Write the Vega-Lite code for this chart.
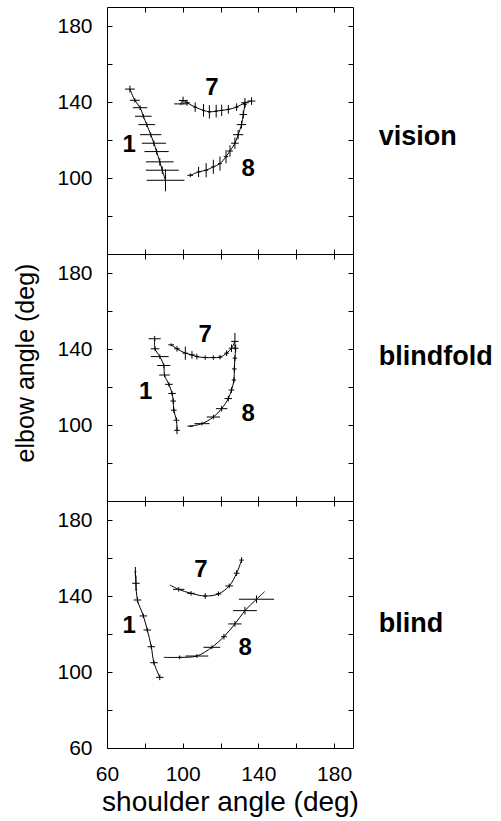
{
  "$schema": "https://vega.github.io/schema/vega-lite/v6.json",
  "padding": {"left": 13, "top": 6, "right": 5, "bottom": 5},
  "autosize": {"type": "pad"},
  "spacing": 0,
  "bounds": "flush",
  "config": {
    "font": "Liberation Sans",
    "view": {"stroke": "black", "strokeWidth": 1},
    "axis": {"domain": false, "grid": false, "tickColor": "black", "labelColor": "black", "labelFontSize": 21, "labelFont": "Liberation Sans", "titleFont": "Liberation Sans", "titleFontSize": 25, "titleFontWeight": "normal", "titleColor": "black", "labelOverlap": false, "labelFlush": false, "tickSize": -5, "labelPadding": 20}
  },
  "datasets": {
    "pts": [
      {"p": "v", "c": "1", "x": 72.1, "y": 146.8, "xe": 2.6, "ye": 1.8},
      {"p": "v", "c": "1", "x": 74.7, "y": 140.9, "xe": 2.6, "ye": 1.2},
      {"p": "v", "c": "1", "x": 77.5, "y": 137.0, "xe": 3.8, "ye": 1.2},
      {"p": "v", "c": "1", "x": 79.2, "y": 132.5, "xe": 4.4, "ye": 1.2},
      {"p": "v", "c": "1", "x": 81.0, "y": 128.1, "xe": 4.4, "ye": 1.2},
      {"p": "v", "c": "1", "x": 83.1, "y": 122.8, "xe": 5.6, "ye": 1.2},
      {"p": "v", "c": "1", "x": 84.8, "y": 118.3, "xe": 6.4, "ye": 1.5},
      {"p": "v", "c": "1", "x": 86.2, "y": 113.9, "xe": 6.4, "ye": 1.5},
      {"p": "v", "c": "1", "x": 87.9, "y": 108.5, "xe": 7.3, "ye": 2.0},
      {"p": "v", "c": "1", "x": 89.2, "y": 104.1, "xe": 8.7, "ye": 2.0},
      {"p": "v", "c": "1", "x": 90.9, "y": 98.8, "xe": 10.0, "ye": 5.8},
      {"p": "v", "c": "7", "x": 99.0, "y": 139.0, "xe": 3.5, "ye": 0.6},
      {"p": "v", "c": "7", "x": 100.2, "y": 140.8, "xe": 2.2, "ye": 2.0},
      {"p": "v", "c": "7", "x": 102.3, "y": 139.6, "xe": 1.5, "ye": 1.5},
      {"p": "v", "c": "7", "x": 106.6, "y": 137.3, "xe": 1.0, "ye": 2.5},
      {"p": "v", "c": "7", "x": 111.0, "y": 135.6, "xe": 0.8, "ye": 3.3},
      {"p": "v", "c": "7", "x": 114.1, "y": 134.8, "xe": 0.8, "ye": 3.5},
      {"p": "v", "c": "7", "x": 117.7, "y": 135.2, "xe": 0.8, "ye": 3.3},
      {"p": "v", "c": "7", "x": 120.6, "y": 135.6, "xe": 0.8, "ye": 3.0},
      {"p": "v", "c": "7", "x": 124.1, "y": 136.1, "xe": 0.8, "ye": 2.3},
      {"p": "v", "c": "7", "x": 128.5, "y": 137.3, "xe": 1.0, "ye": 2.0},
      {"p": "v", "c": "7", "x": 132.9, "y": 139.6, "xe": 2.0, "ye": 2.5},
      {"p": "v", "c": "7", "x": 136.4, "y": 140.5, "xe": 2.0, "ye": 2.0},
      {"p": "v", "c": "8", "x": 104.0, "y": 101.4, "xe": 1.5, "ye": 1.0},
      {"p": "v", "c": "8", "x": 108.4, "y": 103.2, "xe": 1.0, "ye": 2.7},
      {"p": "v", "c": "8", "x": 112.4, "y": 104.1, "xe": 1.0, "ye": 3.7},
      {"p": "v", "c": "8", "x": 116.2, "y": 105.9, "xe": 1.0, "ye": 3.7},
      {"p": "v", "c": "8", "x": 119.7, "y": 107.6, "xe": 1.0, "ye": 3.7},
      {"p": "v", "c": "8", "x": 122.9, "y": 111.2, "xe": 1.2, "ye": 3.5},
      {"p": "v", "c": "8", "x": 125.0, "y": 114.2, "xe": 1.5, "ye": 3.0},
      {"p": "v", "c": "8", "x": 127.6, "y": 118.3, "xe": 2.0, "ye": 3.0},
      {"p": "v", "c": "8", "x": 129.3, "y": 122.8, "xe": 2.7, "ye": 2.5},
      {"p": "v", "c": "8", "x": 131.1, "y": 128.1, "xe": 2.5, "ye": 2.0},
      {"p": "v", "c": "8", "x": 132.0, "y": 133.4, "xe": 2.0, "ye": 2.0},
      {"p": "v", "c": "8", "x": 132.9, "y": 138.8, "xe": 1.0, "ye": 1.5},
      {"p": "f", "c": "1", "x": 85.2, "y": 145.4, "xe": 3.2, "ye": 1.5},
      {"p": "f", "c": "1", "x": 85.4, "y": 140.1, "xe": 2.3, "ye": 1.2},
      {"p": "f", "c": "1", "x": 87.9, "y": 136.0, "xe": 4.7, "ye": 1.2},
      {"p": "f", "c": "1", "x": 90.0, "y": 131.3, "xe": 3.5, "ye": 1.2},
      {"p": "f", "c": "1", "x": 90.4, "y": 126.3, "xe": 2.8, "ye": 1.2},
      {"p": "f", "c": "1", "x": 92.7, "y": 121.4, "xe": 2.0, "ye": 1.2},
      {"p": "f", "c": "1", "x": 94.4, "y": 116.6, "xe": 2.0, "ye": 1.2},
      {"p": "f", "c": "1", "x": 95.0, "y": 112.6, "xe": 1.5, "ye": 1.5},
      {"p": "f", "c": "1", "x": 95.3, "y": 107.8, "xe": 1.5, "ye": 1.5},
      {"p": "f", "c": "1", "x": 96.7, "y": 102.5, "xe": 1.5, "ye": 1.5},
      {"p": "f", "c": "1", "x": 97.0, "y": 97.2, "xe": 1.5, "ye": 2.0},
      {"p": "f", "c": "7", "x": 93.9, "y": 142.2, "xe": 1.5, "ye": 0.8},
      {"p": "f", "c": "7", "x": 97.0, "y": 140.1, "xe": 1.5, "ye": 1.5},
      {"p": "f", "c": "7", "x": 101.4, "y": 137.8, "xe": 1.5, "ye": 3.5},
      {"p": "f", "c": "7", "x": 104.9, "y": 136.9, "xe": 1.5, "ye": 2.0},
      {"p": "f", "c": "7", "x": 107.5, "y": 136.0, "xe": 1.2, "ye": 1.5},
      {"p": "f", "c": "7", "x": 111.9, "y": 135.5, "xe": 1.2, "ye": 1.2},
      {"p": "f", "c": "7", "x": 116.2, "y": 135.5, "xe": 1.2, "ye": 1.2},
      {"p": "f", "c": "7", "x": 119.7, "y": 135.7, "xe": 1.2, "ye": 1.2},
      {"p": "f", "c": "7", "x": 123.2, "y": 137.8, "xe": 1.2, "ye": 1.5},
      {"p": "f", "c": "7", "x": 125.8, "y": 140.4, "xe": 1.5, "ye": 2.0},
      {"p": "f", "c": "7", "x": 127.6, "y": 144.0, "xe": 2.0, "ye": 4.4},
      {"p": "f", "c": "8", "x": 104.0, "y": 99.4, "xe": 1.5, "ye": 0.5},
      {"p": "f", "c": "8", "x": 110.2, "y": 100.7, "xe": 4.0, "ye": 1.0},
      {"p": "f", "c": "8", "x": 116.2, "y": 104.2, "xe": 3.5, "ye": 1.2},
      {"p": "f", "c": "8", "x": 120.6, "y": 108.6, "xe": 3.0, "ye": 1.5},
      {"p": "f", "c": "8", "x": 124.1, "y": 113.9, "xe": 2.0, "ye": 1.5},
      {"p": "f", "c": "8", "x": 125.8, "y": 118.4, "xe": 1.5, "ye": 1.5},
      {"p": "f", "c": "8", "x": 127.1, "y": 123.7, "xe": 1.2, "ye": 1.5},
      {"p": "f", "c": "8", "x": 127.3, "y": 129.5, "xe": 1.2, "ye": 1.5},
      {"p": "f", "c": "8", "x": 127.6, "y": 135.2, "xe": 1.2, "ye": 1.5},
      {"p": "f", "c": "8", "x": 128.0, "y": 140.4, "xe": 1.5, "ye": 2.0},
      {"p": "b", "c": "1", "x": 75.0, "y": 152.8, "xe": 0.5, "ye": 2.5},
      {"p": "b", "c": "1", "x": 75.3, "y": 146.7, "xe": 2.0, "ye": 4.0},
      {"p": "b", "c": "1", "x": 76.1, "y": 137.9, "xe": 2.0, "ye": 1.5},
      {"p": "b", "c": "1", "x": 79.2, "y": 129.5, "xe": 2.0, "ye": 1.2},
      {"p": "b", "c": "1", "x": 81.3, "y": 122.1, "xe": 2.0, "ye": 1.2},
      {"p": "b", "c": "1", "x": 83.4, "y": 113.3, "xe": 2.0, "ye": 1.2},
      {"p": "b", "c": "1", "x": 84.8, "y": 104.9, "xe": 2.0, "ye": 1.2},
      {"p": "b", "c": "1", "x": 87.9, "y": 97.2, "xe": 2.0, "ye": 1.5},
      {"p": "b", "c": "7", "x": 93.2, "y": 145.8, "xe": null, "ye": null},
      {"p": "b", "c": "7", "x": 97.9, "y": 143.5, "xe": 3.0, "ye": 1.2},
      {"p": "b", "c": "7", "x": 104.4, "y": 141.4, "xe": 2.0, "ye": 1.2},
      {"p": "b", "c": "7", "x": 111.9, "y": 140.0, "xe": 1.0, "ye": 1.5},
      {"p": "b", "c": "7", "x": 118.9, "y": 141.1, "xe": 1.5, "ye": 1.2},
      {"p": "b", "c": "7", "x": 124.6, "y": 145.3, "xe": 2.0, "ye": 1.2},
      {"p": "b", "c": "7", "x": 128.5, "y": 152.0, "xe": 1.5, "ye": 1.5},
      {"p": "b", "c": "7", "x": 131.1, "y": 158.9, "xe": 1.2, "ye": 1.5},
      {"p": "b", "c": "8", "x": 90.0, "y": 107.7, "xe": null, "ye": null},
      {"p": "b", "c": "8", "x": 98.4, "y": 107.7, "xe": 1.0, "ye": 1.0},
      {"p": "b", "c": "8", "x": 107.5, "y": 108.4, "xe": 6.0, "ye": 1.0},
      {"p": "b", "c": "8", "x": 115.4, "y": 113.0, "xe": 4.4, "ye": 1.0},
      {"p": "b", "c": "8", "x": 121.8, "y": 118.6, "xe": 1.5, "ye": 1.5},
      {"p": "b", "c": "8", "x": 127.6, "y": 125.3, "xe": 3.5, "ye": 1.5},
      {"p": "b", "c": "8", "x": 132.9, "y": 132.3, "xe": 6.3, "ye": 2.0},
      {"p": "b", "c": "8", "x": 139.0, "y": 138.3, "xe": 9.3, "ye": 2.0},
      {"p": "b", "c": "8", "x": 143.3, "y": 142.3, "xe": null, "ye": null}
    ],
    "lab": [
      {"p": "v", "t": "1", "x": 71.7, "y": 117.4},
      {"p": "v", "t": "7", "x": 115.4, "y": 147.6},
      {"p": "v", "t": "8", "x": 134.6, "y": 105.0},
      {"p": "f", "t": "1", "x": 80.4, "y": 117.5},
      {"p": "f", "t": "7", "x": 111.9, "y": 147.5},
      {"p": "f", "t": "8", "x": 134.6, "y": 106.0},
      {"p": "b", "t": "1", "x": 71.7, "y": 124.2},
      {"p": "b", "t": "7", "x": 109.6, "y": 153.7},
      {"p": "b", "t": "8", "x": 133.0, "y": 112.5}
    ],
    "cond": [
      {"p": "v", "t": "vision", "x": 203.6, "y": 117.4},
      {"p": "f", "t": "blindfold", "x": 203.6, "y": 131.6},
      {"p": "b", "t": "blind", "x": 203.6, "y": 121.2}
    ]
  },
  "vconcat": [
    {
      "width": 246, "height": 247,
      "resolve": {"axis": {"x": "independent", "y": "independent"}},
      "layer": [
        {"data": {"name": "pts"}, "transform": [{"filter": "datum.p == 'v'"}],
         "mark": {"type": "line", "interpolate": "catmull-rom", "color": "black", "strokeWidth": 1},
         "encoding": {
           "x": {"field": "x", "type": "quantitative", "scale": {"domain": [60, 190], "nice": false, "zero": false},
                 "axis": {"orient": "bottom", "values": [80, 100, 120, 140, 160, 180], "labels": false, "title": null, "tickSize": -5}},
           "y": {"field": "y", "type": "quantitative", "scale": {"domain": [60, 190], "nice": false, "zero": false},
                 "axis": {"orient": "left", "values": [80, 100, 120, 140, 160, 180], "labelExpr": "datum.value % 40 == 0 ? '' : datum.label", "title": null, "tickSize": -5, "labelPadding": 20, "labelFontSize": 21, "labelFont": "Liberation Sans", "labelFontWeight": "normal", "labelFlush": false}},
           "detail": {"field": "c"}}},
        {"data": {"name": "pts"}, "transform": [{"filter": "datum.p == 'v' && isValid(datum.xe)"}],
         "mark": {"type": "errorbar", "color": "black", "thickness": 1},
         "encoding": {
           "x": {"field": "x", "type": "quantitative", "scale": {"domain": [60, 190], "nice": false, "zero": false}, "axis": null},
           "xError": {"field": "xe"},
           "y": {"field": "y", "type": "quantitative", "scale": {"domain": [60, 190], "nice": false, "zero": false}, "axis": null}}},
        {"data": {"name": "pts"}, "transform": [{"filter": "datum.p == 'v' && isValid(datum.ye)"}],
         "mark": {"type": "errorbar", "color": "black", "thickness": 1},
         "encoding": {
           "x": {"field": "x", "type": "quantitative", "scale": {"domain": [60, 190], "nice": false, "zero": false}, "axis": null},
           "y": {"field": "y", "type": "quantitative", "scale": {"domain": [60, 190], "nice": false, "zero": false}, "axis": null},
           "yError": {"field": "ye"}}},
        {"data": {"name": "lab"}, "transform": [{"filter": "datum.p == 'v'"}],
         "mark": {"type": "text", "fontWeight": "bold", "fontSize": 24, "color": "black", "align": "center", "baseline": "middle"},
         "encoding": {
           "x": {"field": "x", "type": "quantitative", "axis": null},
           "y": {"field": "y", "type": "quantitative", "axis": null},
           "text": {"field": "t"}}},
        {"data": {"name": "cond"}, "transform": [{"filter": "datum.p == 'v'"}],
         "mark": {"type": "text", "fontWeight": "bold", "fontSize": 27, "color": "black", "align": "left", "baseline": "alphabetic"},
         "encoding": {
           "x": {"field": "x", "type": "quantitative", "axis": null},
           "y": {"field": "y", "type": "quantitative", "axis": null},
           "text": {"field": "t"}}},
        {"data": {"name": "pts"}, "transform": [{"filter": "datum.p == 'v'"}],
         "mark": {"type": "point", "opacity": 0},
         "encoding": {
           "x": {"field": "x", "type": "quantitative", "axis": {"orient": "top", "values": [80, 100, 120, 140, 160, 180], "labels": false, "title": null, "tickSize": -5}},
           "y": {"field": "y", "type": "quantitative", "axis": {"orient": "right", "values": [80, 100, 120, 140, 160, 180], "labels": false, "title": null, "tickSize": -5}}}}
      ]
    },
    {
      "width": 246, "height": 247,
      "resolve": {"axis": {"x": "independent", "y": "independent"}},
      "layer": [
        {"data": {"name": "pts"}, "transform": [{"filter": "datum.p == 'f'"}],
         "mark": {"type": "line", "interpolate": "catmull-rom", "color": "black", "strokeWidth": 1},
         "encoding": {
           "x": {"field": "x", "type": "quantitative", "scale": {"domain": [60, 190], "nice": false, "zero": false},
                 "axis": {"orient": "bottom", "values": [80, 100, 120, 140, 160, 180], "labels": false, "title": null, "tickSize": -5}},
           "y": {"field": "y", "type": "quantitative", "scale": {"domain": [60, 190], "nice": false, "zero": false},
                 "axis": {"orient": "left", "values": [80, 100, 120, 140, 160, 180], "labelExpr": "datum.value % 40 == 0 ? '' : datum.label", "title": "elbow angle (deg)", "titlePadding": 18, "titleY": 108.5, "titleFontSize": 25, "tickSize": -5, "labelPadding": 20, "labelFontSize": 21, "labelFont": "Liberation Sans", "labelFontWeight": "normal", "labelFlush": false}},
           "detail": {"field": "c"}}},
        {"data": {"name": "pts"}, "transform": [{"filter": "datum.p == 'f' && isValid(datum.xe)"}],
         "mark": {"type": "errorbar", "color": "black", "thickness": 1},
         "encoding": {
           "x": {"field": "x", "type": "quantitative", "scale": {"domain": [60, 190], "nice": false, "zero": false}, "axis": null},
           "xError": {"field": "xe"},
           "y": {"field": "y", "type": "quantitative", "scale": {"domain": [60, 190], "nice": false, "zero": false}, "axis": null}}},
        {"data": {"name": "pts"}, "transform": [{"filter": "datum.p == 'f' && isValid(datum.ye)"}],
         "mark": {"type": "errorbar", "color": "black", "thickness": 1},
         "encoding": {
           "x": {"field": "x", "type": "quantitative", "scale": {"domain": [60, 190], "nice": false, "zero": false}, "axis": null},
           "y": {"field": "y", "type": "quantitative", "scale": {"domain": [60, 190], "nice": false, "zero": false}, "axis": null},
           "yError": {"field": "ye"}}},
        {"data": {"name": "lab"}, "transform": [{"filter": "datum.p == 'f'"}],
         "mark": {"type": "text", "fontWeight": "bold", "fontSize": 24, "color": "black", "align": "center", "baseline": "middle"},
         "encoding": {
           "x": {"field": "x", "type": "quantitative", "axis": null},
           "y": {"field": "y", "type": "quantitative", "axis": null},
           "text": {"field": "t"}}},
        {"data": {"name": "cond"}, "transform": [{"filter": "datum.p == 'f'"}],
         "mark": {"type": "text", "fontWeight": "bold", "fontSize": 27, "color": "black", "align": "left", "baseline": "alphabetic"},
         "encoding": {
           "x": {"field": "x", "type": "quantitative", "axis": null},
           "y": {"field": "y", "type": "quantitative", "axis": null},
           "text": {"field": "t"}}},
        {"data": {"name": "pts"}, "transform": [{"filter": "datum.p == 'f'"}],
         "mark": {"type": "point", "opacity": 0},
         "encoding": {
           "x": {"field": "x", "type": "quantitative", "axis": {"orient": "top", "values": [80, 100, 120, 140, 160, 180], "labels": false, "title": null, "tickSize": -5}},
           "y": {"field": "y", "type": "quantitative", "axis": {"orient": "right", "values": [80, 100, 120, 140, 160, 180], "labels": false, "title": null, "tickSize": -5}}}}
      ]
    },
    {
      "width": 246, "height": 247,
      "resolve": {"axis": {"x": "independent", "y": "independent"}},
      "layer": [
        {"data": {"name": "pts"}, "transform": [{"filter": "datum.p == 'b'"}],
         "mark": {"type": "line", "interpolate": "catmull-rom", "color": "black", "strokeWidth": 1},
         "encoding": {
           "x": {"field": "x", "type": "quantitative", "scale": {"domain": [60, 190], "nice": false, "zero": false},
                 "axis": {"orient": "bottom", "values": [60, 80, 100, 120, 140, 160, 180], "labelExpr": "datum.value % 40 == 0 ? '' : datum.label", "title": "shoulder angle (deg)", "titleFontSize": 28, "titlePadding": 4, "tickSize": -5, "labelPadding": 20, "labelFontSize": 21, "labelFont": "Liberation Sans", "labelFontWeight": "normal", "labelFlush": false}},
           "y": {"field": "y", "type": "quantitative", "scale": {"domain": [60, 190], "nice": false, "zero": false},
                 "axis": {"orient": "left", "values": [60, 80, 100, 120, 140, 160, 180], "labelExpr": "datum.value % 40 == 0 ? '' : datum.label", "title": null, "tickSize": -5, "labelPadding": 20, "labelFontSize": 21, "labelFont": "Liberation Sans", "labelFontWeight": "normal", "labelFlush": false}},
           "detail": {"field": "c"}}},
        {"data": {"name": "pts"}, "transform": [{"filter": "datum.p == 'b' && isValid(datum.xe)"}],
         "mark": {"type": "errorbar", "color": "black", "thickness": 1},
         "encoding": {
           "x": {"field": "x", "type": "quantitative", "scale": {"domain": [60, 190], "nice": false, "zero": false}, "axis": null},
           "xError": {"field": "xe"},
           "y": {"field": "y", "type": "quantitative", "scale": {"domain": [60, 190], "nice": false, "zero": false}, "axis": null}}},
        {"data": {"name": "pts"}, "transform": [{"filter": "datum.p == 'b' && isValid(datum.ye)"}],
         "mark": {"type": "errorbar", "color": "black", "thickness": 1},
         "encoding": {
           "x": {"field": "x", "type": "quantitative", "scale": {"domain": [60, 190], "nice": false, "zero": false}, "axis": null},
           "y": {"field": "y", "type": "quantitative", "scale": {"domain": [60, 190], "nice": false, "zero": false}, "axis": null},
           "yError": {"field": "ye"}}},
        {"data": {"name": "lab"}, "transform": [{"filter": "datum.p == 'b'"}],
         "mark": {"type": "text", "fontWeight": "bold", "fontSize": 24, "color": "black", "align": "center", "baseline": "middle"},
         "encoding": {
           "x": {"field": "x", "type": "quantitative", "axis": null},
           "y": {"field": "y", "type": "quantitative", "axis": null},
           "text": {"field": "t"}}},
        {"data": {"name": "cond"}, "transform": [{"filter": "datum.p == 'b'"}],
         "mark": {"type": "text", "fontWeight": "bold", "fontSize": 27, "color": "black", "align": "left", "baseline": "alphabetic"},
         "encoding": {
           "x": {"field": "x", "type": "quantitative", "axis": null},
           "y": {"field": "y", "type": "quantitative", "axis": null},
           "text": {"field": "t"}}},
        {"data": {"name": "pts"}, "transform": [{"filter": "datum.p == 'b'"}],
         "mark": {"type": "point", "opacity": 0},
         "encoding": {
           "x": {"field": "x", "type": "quantitative", "axis": {"orient": "top", "values": [80, 100, 120, 140, 160, 180], "labels": false, "title": null, "tickSize": -5}},
           "y": {"field": "y", "type": "quantitative", "axis": {"orient": "right", "values": [80, 100, 120, 140, 160, 180], "labels": false, "title": null, "tickSize": -5}}}}
      ]
    }
  ]
}
